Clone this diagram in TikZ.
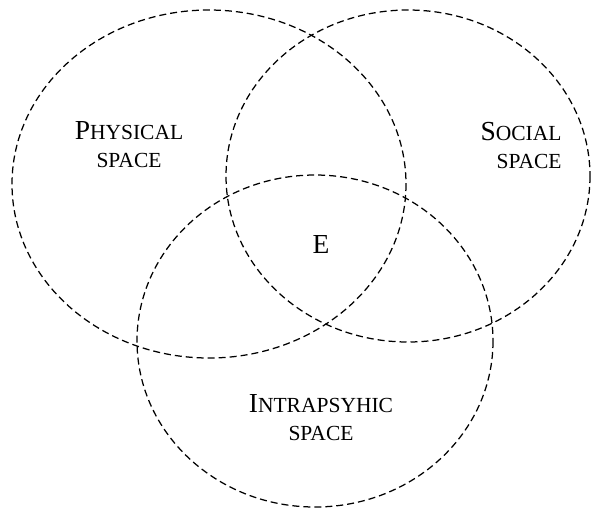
\documentclass[tikz,border=0pt]{standalone}
\usepackage{fontspec}
\setmainfont{Liberation Serif}
\newcommand{\smc}[1]{{\fontsize{8.6}{11.2}\selectfont #1}}

\begin{document}
\begin{tikzpicture}[x=0.4pt,y=-0.4pt]
\tikzset{
  region/.style={draw,line width=0.5pt,dash pattern=on 2.8pt off 1.6pt},
  regionlabel/.style={inner sep=0pt,align=center,font=\fontsize{11}{11.2}\selectfont}
}
\useasboundingbox (0,0) rectangle (591,508);
% the three spaces
\draw[region] (209,184) ellipse [x radius=197,y radius=174];
\draw[region] (408,176) ellipse [x radius=182,y radius=166];
\draw[region] (315,341) ellipse [x radius=178,y radius=166];
% labels
\node[regionlabel] (l_phys) at (129,145) {P\smc{HYSICAL}\\\smc{SPACE}};
\node[regionlabel,align=right,anchor=east] (l_soc) at (562,145) {S\smc{OCIAL}\\\smc{SPACE}};
\node[regionlabel] (l_intra) at (321,418) {I\smc{NTRAPSYHIC}\\\smc{SPACE}};
\node[regionlabel] (l_e) at (321,244) {E};
\end{tikzpicture}
\end{document}
